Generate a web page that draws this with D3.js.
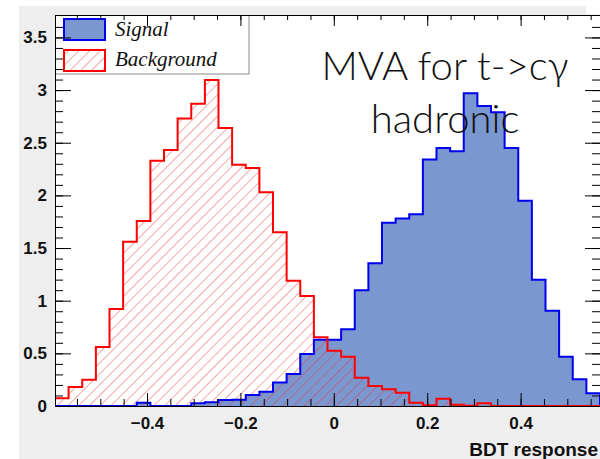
<!DOCTYPE html>
<html><head><meta charset="utf-8">
<script src="https://cdn.jsdelivr.net/npm/d3@7"></script>
<style>body{margin:0;background:#fff}svg{display:block}</style>
</head><body>
<script>
// ---- data ----
const nBins = 40;
const xMin = -0.597, xMax = 0.570;
const signal = [0,0,0,0,0,0,0.03,0,0,0,
  0.025,0.035,0.057,0.06,0.104,0.136,0.222,0.304,0.494,0.63,
  0.63,0.73,1.10,1.355,1.74,1.78,1.82,2.34,2.45,2.42,
  2.97,2.85,2.79,2.45,1.95,1.20,0.905,0.468,0.254,0.12];
const background = [0.073,0.18,0.25,0.56,0.92,1.56,1.757,2.33,2.43,2.73,
  2.87,3.096,2.64,2.29,2.26,2.03,1.65,1.19,1.045,0.652,
  0.525,0.468,0.269,0.19,0.158,0.127,0.032,0.007,0.07,0.013,
  0.003,0.025,0,0,0,0,0,0,0,0];
const xTickValues = [-0.4,-0.2,0,0.2,0.4];
const xMinorTicks = [-0.55,-0.5,-0.45,-0.4,-0.35,-0.3,-0.25,-0.2,-0.15,-0.1,-0.05,0,0.05,0.1,0.15,0.2,0.25,0.3,0.35,0.4,0.45,0.5,0.55];
const yTickValues = [0,0.5,1,1.5,2,2.5,3,3.5];
const yMinorTicks = d3.range(0,37).map(i=>i/10);
const legendLabels = ["Signal","Background"];
const titleLines = ["MVA for t->c\u03b3","hadronic"];
const xTitle = "BDT response";
const yMax = 3.713;

// ---- layout ----
const W=600,H=459;
const F = {left:55, right:600, top:15, bottom:406};
const x = d3.scaleLinear().domain([xMin,xMax]).range([F.left,F.right]);
const y = d3.scaleLinear().domain([0,yMax]).range([F.bottom,F.top]);
const bw = (xMax-xMin)/nBins;

const svg = d3.select("body").append("svg").attr("width",W).attr("height",H);
const defs = svg.append("defs");
const pat = defs.append("pattern").attr("id","hatch").attr("patternUnits","userSpaceOnUse")
  .attr("width",7.6).attr("height",7.6).attr("patternTransform","rotate(45)");
pat.append("line").attr("x1",0).attr("y1",0).attr("x2",0).attr("y2",7.6)
  .attr("stroke","#ea2f2f").attr("stroke-opacity",0.85).attr("stroke-width",1);
defs.append("clipPath").attr("id","clip").append("rect")
  .attr("x",F.left).attr("y",F.top).attr("width",F.right-F.left).attr("height",F.bottom-F.top);

// background canvas
svg.append("rect").attr("x",19).attr("y",6).attr("width",W-19).attr("height",H-6).attr("fill","#eeeeee");
svg.append("rect").attr("x",586).attr("y",0).attr("width",14).attr("height",14).attr("fill","#ffffff");
svg.append("rect").attr("x",F.left).attr("y",F.top).attr("width",F.right-F.left).attr("height",F.bottom-F.top).attr("fill","#ffffff");

function pts(vals){
  const p = [{e:xMin,v:0}];
  vals.forEach((v,i)=>p.push({e:xMin+i*bw,v:v}));
  p.push({e:xMin+nBins*bw,v:vals[nBins-1]});
  p.push({e:xMin+nBins*bw,v:0});
  return p;
}
const area = d3.area().x(d=>x(d.e)).y0(y(0)).y1(d=>y(d.v)).curve(d3.curveStepAfter);
const line = d3.line().x(d=>x(d.e)).y(d=>y(d.v)).curve(d3.curveStepAfter);

const g = svg.append("g").attr("clip-path","url(#clip)");
g.append("path").attr("d",area(pts(signal))).attr("fill","#7b97d0");
g.append("path").attr("d",area(pts(background))).attr("fill","url(#hatch)");
g.append("path").attr("d",line(pts(signal))).attr("fill","none").attr("stroke","#0000ee").attr("stroke-width",2);
g.append("path").attr("d",line(pts(background))).attr("fill","none").attr("stroke","#ff0000").attr("stroke-width",2);

// title
const tt = svg.append("text").attr("text-anchor","middle")
  .style("font-family","Lato, 'Open Sans', 'Liberation Sans', sans-serif").style("font-weight",300)
  .style("font-size","40px").attr("fill","#111");
titleLines.forEach((t,i)=>tt.append("tspan").attr("x",445).attr("y",80+i*53).text(t));

// legend
const lg = svg.append("g");
lg.append("rect").attr("x",55.5).attr("y",15.5).attr("width",193.5).attr("height",58.5)
  .attr("fill","#ffffff").attr("stroke","#8a8a8a").attr("stroke-width",1);
lg.append("rect").attr("x",64).attr("y",19).attr("width",41).attr("height",21)
  .attr("fill","#7b97d0").attr("stroke","#0000ee").attr("stroke-width",2);
lg.append("rect").attr("x",64).attr("y",50).attr("width",41).attr("height",21)
  .attr("fill","url(#hatch)").attr("stroke","#ff0000").attr("stroke-width",2);
legendLabels.forEach((t,i)=>lg.append("text").attr("x",115).attr("y",36+i*30).text(t)
  .style("font-family","'Liberation Serif','DejaVu Serif',serif").style("font-style","italic")
  .style("font-size","21px").attr("fill","#111"));

// axes
function styleAxis(sel){ sel.select(".domain").remove(); sel.selectAll("line").attr("stroke","#000"); }
const lab = sel=>sel.selectAll("text").style("font-family","'Liberation Sans',Arial,sans-serif")
  .style("font-weight","bold").style("font-size","17px").attr("fill","#111");

svg.append("g").attr("transform",`translate(0,${F.bottom})`)
  .call(d3.axisBottom(x).tickValues(xMinorTicks).tickSize(-7).tickFormat("")).call(styleAxis);
const xb = svg.append("g").attr("transform",`translate(0,${F.bottom})`)
  .call(d3.axisBottom(x).tickValues(xTickValues).tickSize(-13).tickPadding(11).tickFormat(d3.format(".1~f"))).call(styleAxis);
lab(xb);
xb.selectAll("text").text(d=>d===0?"0":d3.format(".1f")(d));
svg.append("g").attr("transform",`translate(0,${F.top})`)
  .call(d3.axisTop(x).tickValues(xMinorTicks).tickSize(-5).tickFormat("")).call(styleAxis);
svg.append("g").attr("transform",`translate(0,${F.top})`)
  .call(d3.axisTop(x).tickValues(xTickValues).tickSize(-11).tickFormat("")).call(styleAxis);

svg.append("g").attr("transform",`translate(${F.left},0)`)
  .call(d3.axisLeft(y).tickValues(yMinorTicks).tickSize(-8).tickFormat("")).call(styleAxis);
const yl = svg.append("g").attr("transform",`translate(${F.left},0)`)
  .call(d3.axisLeft(y).tickValues(yTickValues).tickSize(-16).tickPadding(8).tickFormat(d=>d3.format("~g")(d))).call(styleAxis);
lab(yl);
svg.append("g").attr("transform",`translate(${F.right},0)`)
  .call(d3.axisRight(y).tickValues(yMinorTicks).tickSize(-8).tickFormat("")).call(styleAxis);
svg.append("g").attr("transform",`translate(${F.right},0)`)
  .call(d3.axisRight(y).tickValues(yTickValues).tickSize(-15).tickFormat("")).call(styleAxis);

// frame
svg.append("line").attr("x1",F.left).attr("x2",F.right).attr("y1",F.bottom+0.5).attr("y2",F.bottom+0.5).attr("stroke","#000");
svg.append("line").attr("x1",F.left).attr("x2",F.right).attr("y1",F.top+0.5).attr("y2",F.top+0.5).attr("stroke","#000");
svg.append("line").attr("x1",F.left+0.5).attr("x2",F.left+0.5).attr("y1",F.top).attr("y2",F.bottom).attr("stroke","#000");

// x title
svg.append("text").attr("x",598).attr("y",456).attr("text-anchor","end").text(xTitle)
  .style("font-family","'Liberation Sans',Arial,sans-serif").style("font-weight","bold")
  .style("font-size","19px").attr("fill","#111");
</script>
</body></html>
